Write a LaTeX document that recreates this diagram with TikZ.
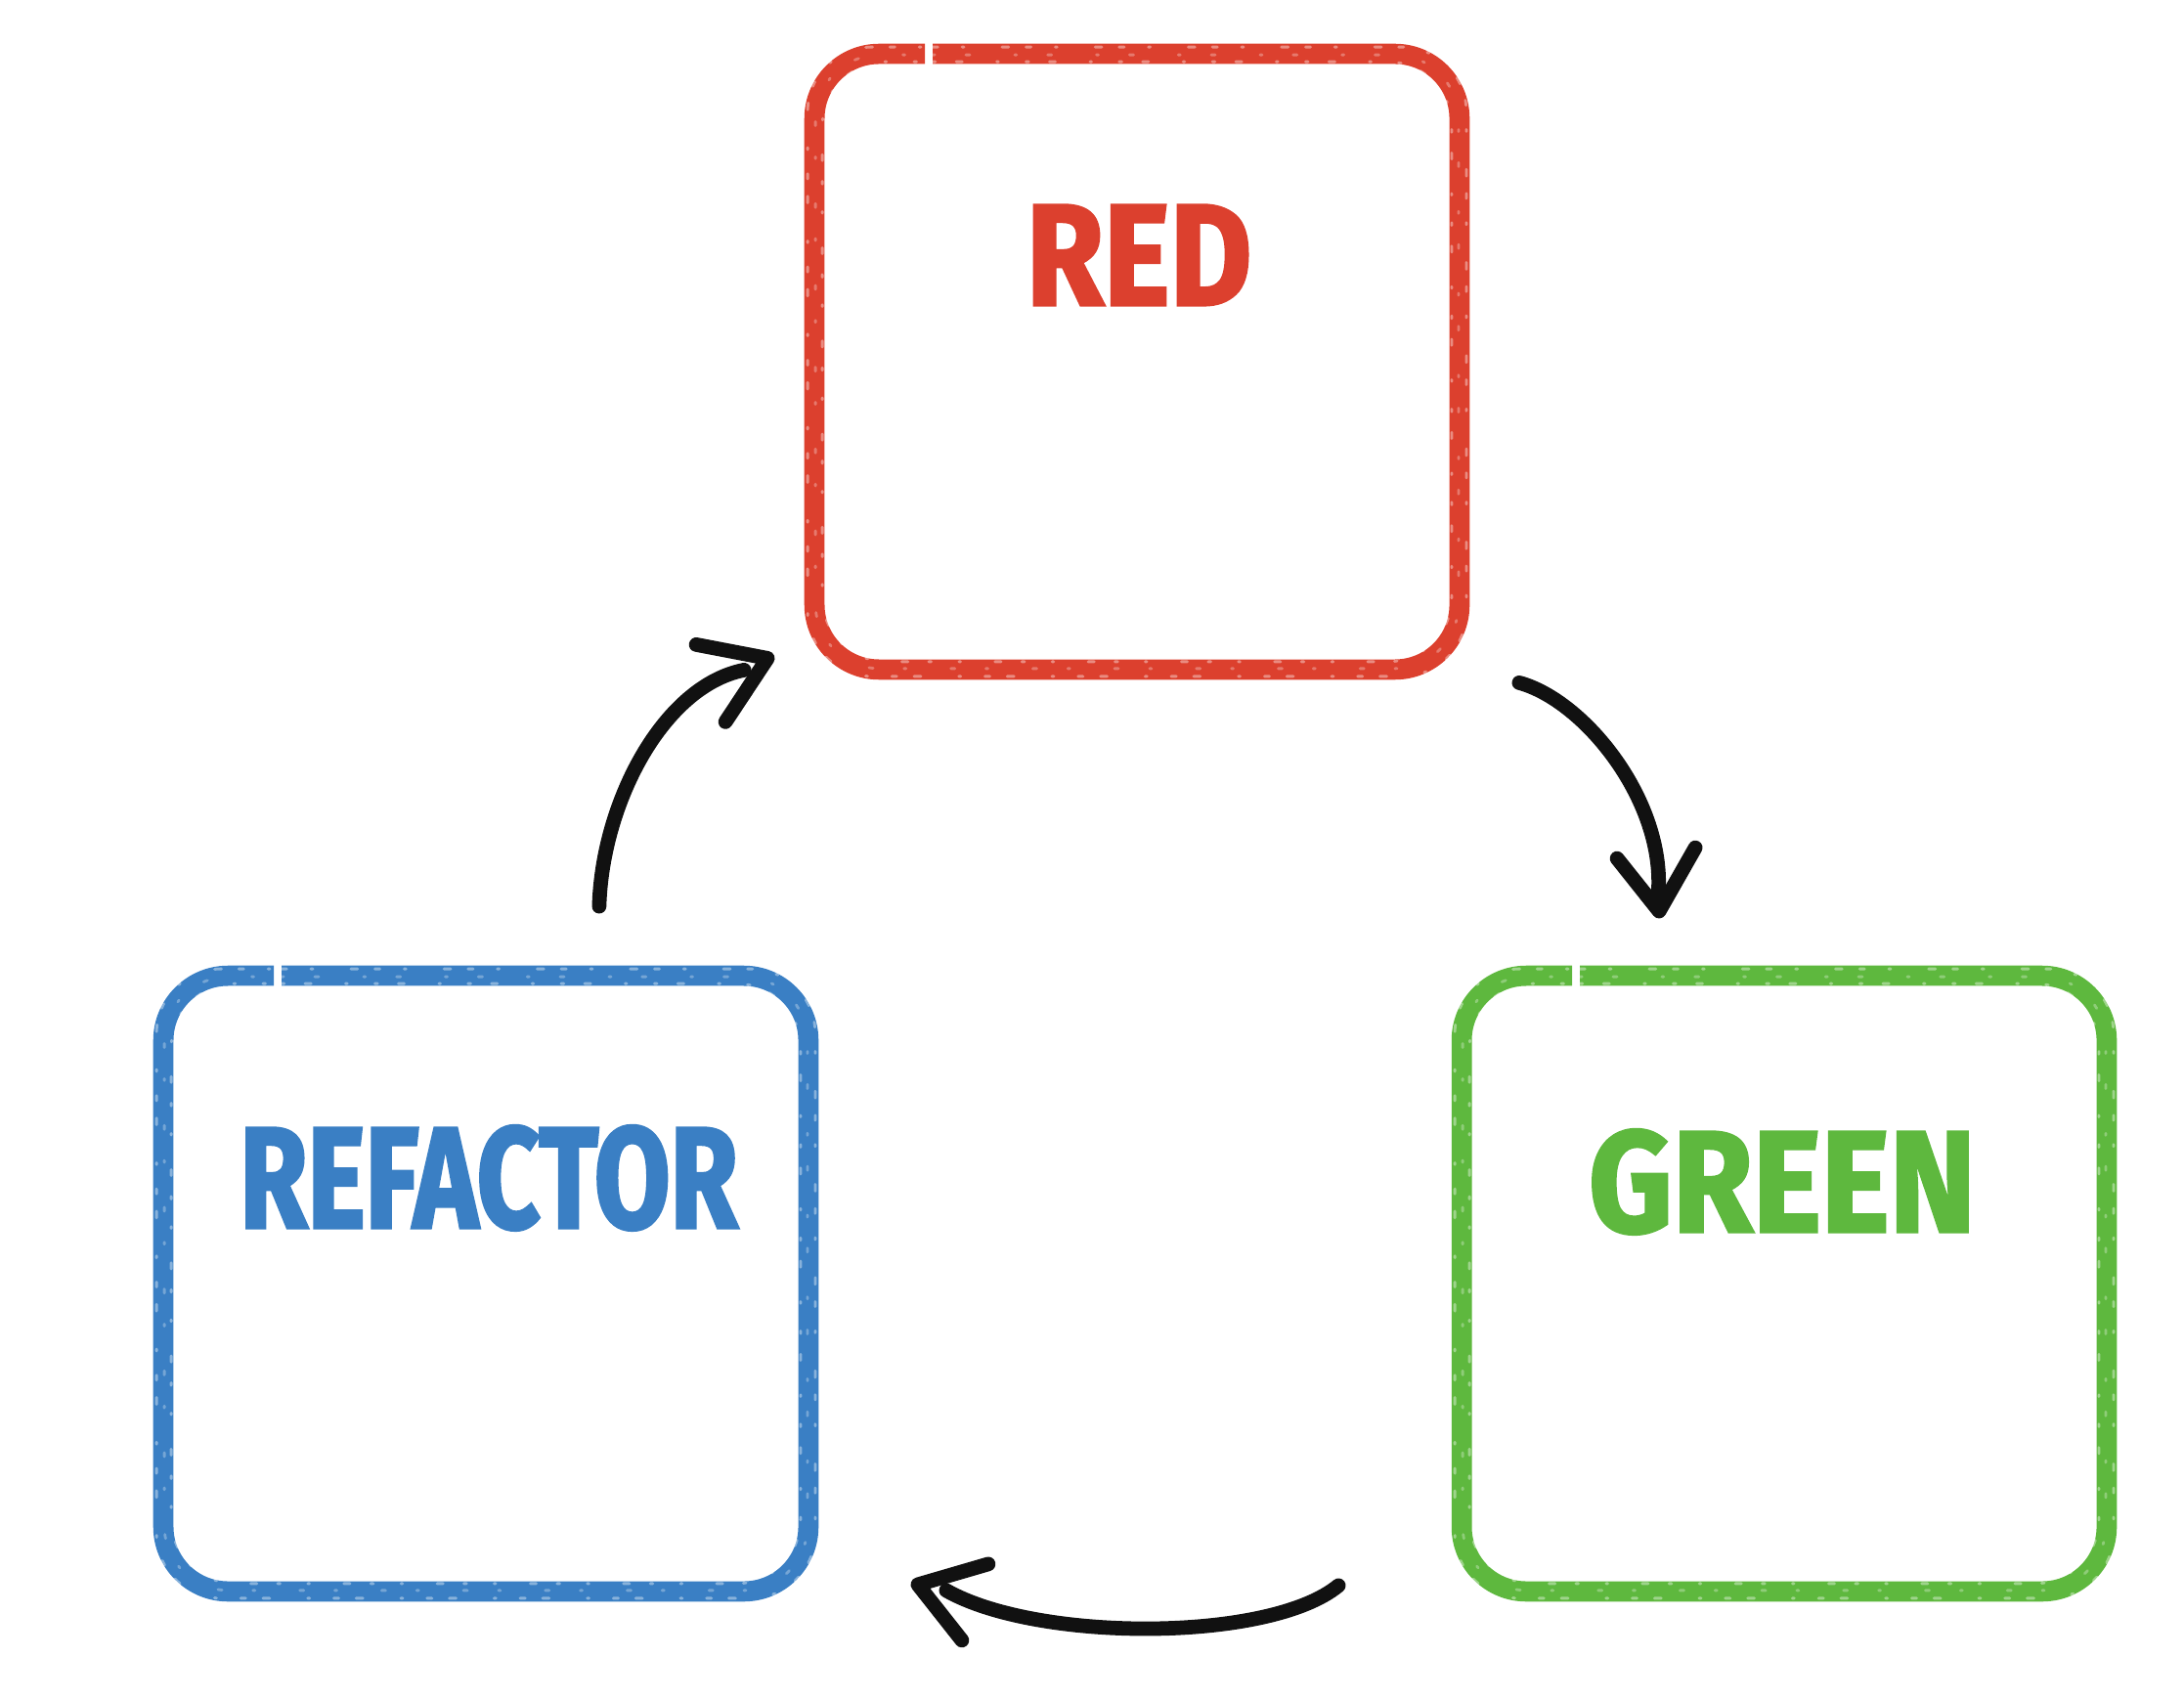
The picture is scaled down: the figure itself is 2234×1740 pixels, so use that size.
\documentclass[tikz,border=0pt]{standalone}
\usepackage{fontspec}
\newfontfamily\redfont{Fira Sans}[FakeStretch=0.87, FakeBold=2]
\newfontfamily\refactorfont{Fira Sans}[FakeStretch=0.76, FakeBold=2]
\newfontfamily\greenfont{Fira Sans}[FakeStretch=0.90, FakeBold=2]
\usetikzlibrary{calc}
\definecolor{tddred}{HTML}{DC402E}
\definecolor{tddgreen}{HTML}{5EB83E}
\definecolor{tddblue}{HTML}{3A7FC4}
\definecolor{ink}{HTML}{111111}

% outline of a stage box, inset by #2, with a short break in the top edge
\newcommand\stageoutline[3]{%
  \draw[#3] ($(#1.north west)+({121},{#2})$) -- ($(#1.north east)+({-(#2)},{#2})$)
    -- ($(#1.south east)+({-(#2)},{-(#2)})$) -- ($(#1.south west)+({#2},{-(#2)})$)
    -- ($(#1.north west)+({#2},{#2})$) -- ($(#1.north west)+({113},{#2})$);}

\begin{document}
\begin{tikzpicture}[x=0.01cm,y=-0.01cm,
  box/.style={rectangle, inner sep=0pt, minimum width=6.58cm, minimum height=6.28cm},
  title/.style={font=\bfseries\fontsize{42}{42}\selectfont, inner sep=0pt, anchor=base},
  crayon/.style={line width=5.9pt, line join=round, line cap=butt, rounded corners=0.66cm},
  grain/.style={white, opacity=0.4, line width=0.8pt, line cap=round, rounded corners=0.66cm},
  stroke/.style={ink, line width=4.2pt, line cap=round, line join=round},
]
\useasboundingbox (0,0) rectangle (2234,1740);

% the three stages of the cycle
\node[box] (red)      at (1163,370)  {};
\node[box] (refactor) at (497,1313)  {};
\node[box] (green)    at (1825,1313) {};

% crayon-like outlines: a solid stroke with a little white grain on top
\foreach \b/\c in {red/tddred, refactor/tddblue, green/tddgreen}{
  \stageoutline{\b}{0}{crayon, \c}
  \stageoutline{\b}{-7}{grain, dash pattern=on 1.5pt off 7pt on 0.6pt off 11pt on 2pt off 5pt}
  \stageoutline{\b}{1}{grain, opacity=0.3, dash pattern=on 0.6pt off 9pt on 1.2pt off 13pt}
  \stageoutline{\b}{8}{grain, dash pattern=on 0.8pt off 6pt on 1.8pt off 10pt on 0.5pt off 8pt}
}

% stage names
\node[title, tddred]   (redlabel)      at ($(red.north)+(2,257)$)      {\redfont RED};
\node[title, tddblue]  (refactorlabel) at ($(refactor.north)+(3,258)$) {\refactorfont REFACTOR};
\node[title, tddgreen] (greenlabel)    at ($(green.north)+(-2,262)$)   {\greenfont GREEN};

% free ends of the curved arrows
\coordinate (s1) at ($(red.south east)+(61,13.5)$);
\coordinate (t1) at ($(green.north west)+(202,-66)$);
\coordinate (e1) at ($(t1)+(-1,-17)$);
\coordinate (s2) at ($(green.south west)+(-126,-6)$);
\coordinate (t2) at ($(refactor.south east)+(112,-7)$);
\coordinate (e2) at ($(t2)+(29,6)$);
\coordinate (s3) at ($(refactor.north east)+(-214,-71)$);
\coordinate (t3) at ($(red.south west)+(-48,-11.5)$);
\coordinate (e3) at ($(t3)+(-24,12)$);

% RED -> GREEN
\draw[stroke] (s1) .. controls +(67,18) and +(8,-95) .. (e1);
\draw[stroke] ($(t1)+(-43,-54)$) -- (t1) -- ($(t1)+(37,-65)$);
% GREEN -> REFACTOR
\draw[stroke] (s2) .. controls +(-70,58) and +(93,53) .. (e2);
\draw[stroke] ($(t2)+(72,-21)$) -- (t2) -- ($(t2)+(45,57)$);
% REFACTOR -> RED
\draw[stroke] (s3) .. controls +(3,-107) and +(-82,16) .. (e3);
\draw[stroke] ($(t3)+(-73,-14)$) -- (t3) -- ($(t3)+(-43,65)$);
\end{tikzpicture}
\end{document}
